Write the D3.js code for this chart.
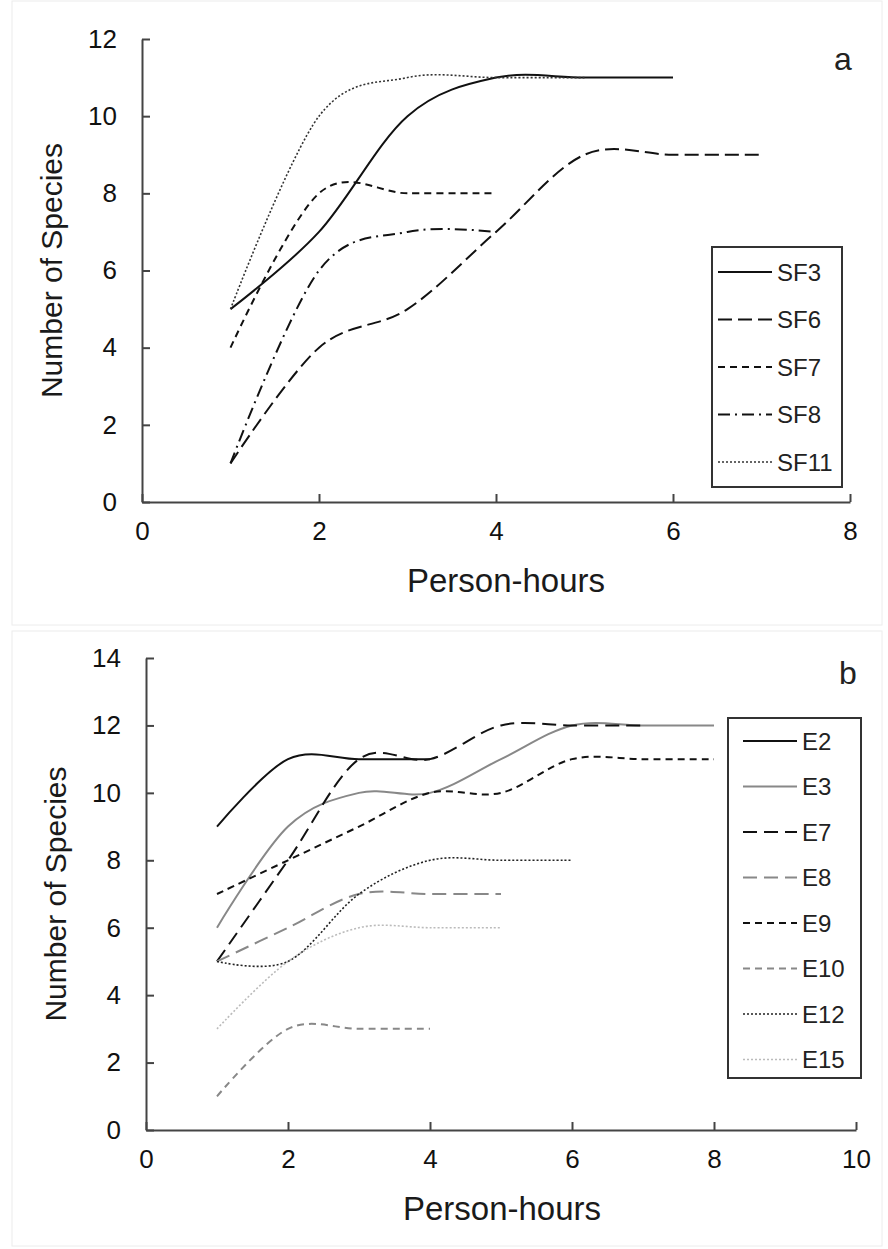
<!DOCTYPE html>
<html>
<head>
<meta charset="utf-8">
<script src="https://cdn.jsdelivr.net/npm/d3@7"></script>
<style>
  body { margin: 0; background: #fff; }
  svg { display: block; font-family: 'Liberation Sans', Arial, sans-serif; }
</style>
</head>
<body>
<script>
// panel a: x = person-hours 1..n
const namesA = ['SF3', 'SF6', 'SF7', 'SF8', 'SF11'];
const sf3 = [5, 7, 10, 11, 11, 11];
const sf6 = [1, 4, 5, 7, 9, 9, 9];
const sf7 = [4, 8, 8, 8];
const sf8 = [1, 6, 7, 7];
const sf11 = [5, 10, 11, 11, 11];
const ticksXA = [0, 2, 4, 6, 8];
const ticksYA = [0, 2, 4, 6, 8, 10, 12];

// panel b
const namesB = ['E2', 'E3', 'E7', 'E8', 'E9', 'E10', 'E12', 'E15'];
const e2 = [9, 11, 11, 11];
const e3 = [6, 9, 10, 10, 11, 12, 12, 12];
const e7 = [5, 8, 11, 11, 12, 12, 12];
const e8 = [5, 6, 7, 7, 7];
const e9 = [7, 8, 9, 10, 10, 11, 11, 11];
const e10 = [1, 3, 3, 3];
const e12 = [5, 5, 7, 8, 8, 8];
const e15 = [3, 5, 6, 6, 6];
const ticksXB = [0, 2, 4, 6, 8, 10];
const ticksYB = [0, 2, 4, 6, 8, 10, 12, 14];

const w = 888, h = 1249;
const svg = d3.select('body').append('svg').attr('width', w).attr('height', h);

// faint frames around each panel
svg.append('rect').attr('x', 12).attr('y', 1).attr('width', 870).attr('height', 624)
  .attr('fill', 'none').attr('stroke', '#ececec');
svg.append('rect').attr('x', 12).attr('y', 631).attr('width', 870).attr('height', 615)
  .attr('fill', 'none').attr('stroke', '#ececec');

const styleA = [
  { color: '#111', dash: null, width: 2 },
  { color: '#111', dash: '14,6', width: 2 },
  { color: '#111', dash: '7,5', width: 2 },
  { color: '#111', dash: '12,5,2,5', width: 2 },
  { color: '#333', dash: '2,2', width: 1.6 }
];
const styleB = [
  { color: '#111', dash: null, width: 2 },
  { color: '#888', dash: null, width: 2 },
  { color: '#111', dash: '14,7', width: 2 },
  { color: '#888', dash: '14,7', width: 2 },
  { color: '#111', dash: '7,5', width: 2 },
  { color: '#888', dash: '7,5', width: 2 },
  { color: '#222', dash: '2,2', width: 1.6 },
  { color: '#bbb', dash: '2,2', width: 1.6 }
];

const drawPanel = (opt) => {
  const x = d3.scaleLinear().domain(opt.xDomain).range(opt.xRange);
  const y = d3.scaleLinear().domain(opt.yDomain).range(opt.yRange);
  const g = svg.append('g');

  //axes with ticks pointing inward
  const xAxis = d3.axisBottom(x).tickValues(opt.xTicks).tickSize(-8).tickSizeOuter(0).tickPadding(20);
  const yAxis = d3.axisLeft(y).tickValues(opt.yTicks).tickSize(-8).tickSizeOuter(0).tickPadding(25);
  const gx = g.append('g').attr('transform', `translate(0, ${opt.yRange[0]})`).call(xAxis);
  const gy = g.append('g').attr('transform', `translate(${opt.xRange[0]}, 0)`).call(yAxis);
  [gx, gy].forEach((a) => {
    a.attr('font-family', null).attr('font-size', null);
    a.select('.domain').attr('stroke', '#444').attr('stroke-width', 2);
    a.selectAll('.tick line').attr('stroke', '#444').attr('stroke-width', 2);
    a.selectAll('.tick text').attr('fill', '#111').style('font-size', '26px');
  });
  gx.selectAll('.tick text').attr('dy', '0.71em');

  const line = d3.line()
    .x((d, i) => x(i + 1))
    .y((d) => y(d))
    .curve(d3.curveCardinal.tension(0));

  opt.series.forEach((s, i) => {
    const st = opt.styles[i];
    g.append('path')
      .attr('d', line(s))
      .attr('fill', 'none')
      .attr('stroke', st.color)
      .attr('stroke-width', st.width)
      .attr('stroke-dasharray', st.dash);
  });

  //axis titles
  g.append('text')
    .attr('x', opt.titleCx)
    .attr('y', opt.yRange[0] + 90)
    .attr('text-anchor', 'middle')
    .attr('fill', '#1a1a1a')
    .style('font-size', '33px')
    .text('Person-hours');
  g.append('text')
    .attr('transform', `translate(${opt.titleX}, ${(opt.yRange[0] + opt.yRange[1]) / 2}) rotate(-90)`)
    .attr('text-anchor', 'middle')
    .attr('fill', '#1a1a1a')
    .style('font-size', '30px')
    .text('Number of Species');

  //panel letter
  g.append('text')
    .attr('x', opt.letterX).attr('y', opt.letterY)
    .attr('text-anchor', 'middle')
    .attr('fill', '#222')
    .style('font-size', '32px')
    .text(opt.letter);

  //legend
  const lg = opt.legend;
  g.append('rect')
    .attr('x', lg.x).attr('y', lg.y).attr('width', lg.w).attr('height', lg.h)
    .attr('fill', '#fff').attr('stroke', '#333').attr('stroke-width', 2);
  opt.names.forEach((n, i) => {
    const st = opt.styles[i];
    const cy = lg.y0 + i * lg.step;
    g.append('line')
      .attr('x1', lg.lx1).attr('x2', lg.lx2).attr('y1', cy).attr('y2', cy)
      .attr('stroke', st.color)
      .attr('stroke-width', st.width)
      .attr('stroke-dasharray', st.dash);
    g.append('text')
      .attr('x', lg.tx).attr('y', cy)
      .attr('dy', '0.36em')
      .attr('fill', '#222')
      .style('font-size', lg.font)
      .text(n);
  });
};

drawPanel({
  xDomain: [0, 8], xRange: [142, 850],
  yDomain: [0, 12], yRange: [502, 39],
  xTicks: ticksXA, yTicks: ticksYA,
  series: [sf3, sf6, sf7, sf8, sf11], names: namesA, styles: styleA,
  titleX: 62, titleCx: 506, letter: 'a', letterX: 843, letterY: 70,
  legend: { x: 712, y: 247, w: 130, h: 240, y0: 272, step: 47.5, lx1: 718, lx2: 772, tx: 777, font: '24px' }
});

drawPanel({
  xDomain: [0, 10], xRange: [146, 856],
  yDomain: [0, 14], yRange: [1130, 658],
  xTicks: ticksXB, yTicks: ticksYB,
  series: [e2, e3, e7, e8, e9, e10, e12, e15], names: namesB, styles: styleB,
  titleX: 66, titleCx: 502, letter: 'b', letterX: 848, letterY: 684,
  legend: { x: 728, y: 718, w: 133, h: 360, y0: 741, step: 45.5, lx1: 743, lx2: 797, tx: 802, font: '24px' }
});
</script>
</body>
</html>
